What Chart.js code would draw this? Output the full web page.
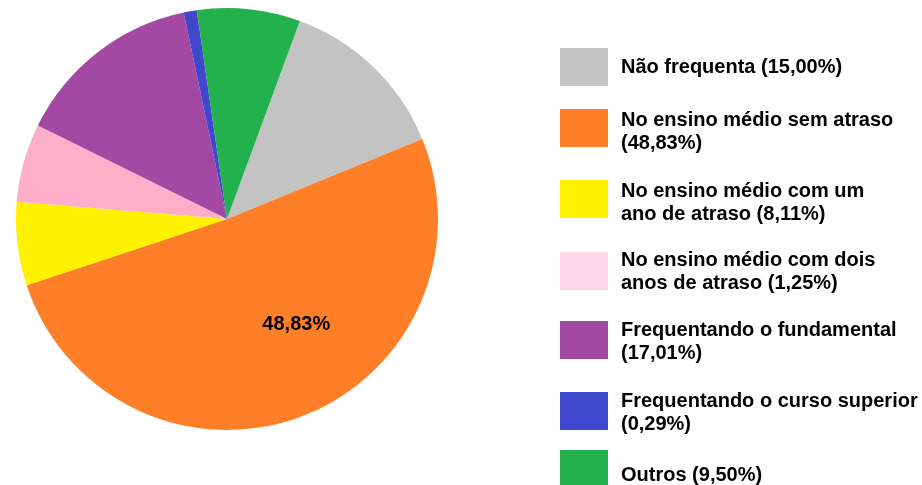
<!DOCTYPE html>
<html>
<head>
<meta charset="utf-8">
<script src="https://cdn.jsdelivr.net/npm/chart.js@4.4.1/dist/chart.umd.min.js"></script>
<style>
  html, body { margin: 0; padding: 0; background: #fff; }
  canvas { display: block; }
</style>
</head>
<body>
<canvas id="grafico" width="922" height="485"></canvas>
<script>
// categorie (testo della legenda, già spezzato in righe)
const categorie = [
    ['Não frequenta (15,00%)'],
    ['No ensino médio sem atraso', '(48,83%)'],
    ['No ensino médio com um', 'ano de atraso (8,11%)'],
    ['No ensino médio com dois', 'anos de atraso (1,25%)'],
    ['Frequentando o fundamental', '(17,01%)'],
    ['Frequentando o curso superior', '(0,29%)'],
    ['Outros (9,50%)']
];
// ampiezza delle fette come appaiono nel disegno (%)
const valori = [13.2, 51.1, 6.4, 6.0, 14.4, 1.0, 7.9];
const etichettaFetta = ['', '48,83%', '', '', '', '', ''];
const coloriFette = ['#c3c3c3', '#fe7f28', '#fff200', '#ffaec9', '#a349a4', '#3f48cc', '#22b14c'];
const coloriLegenda = ['#c3c3c3', '#fe7f28', '#fff200', '#ffd6e8', '#a349a4', '#3f48cc', '#22b14c'];

const FONT = 'bold 20px "Liberation Sans", Arial, sans-serif';

// legenda disegnata a mano a destra della torta
const legendaPlugin = {
    id: 'legendaCustom',
    afterDraw(chart) {
        const c = chart.ctx;
        const topBox = [48, 109, 180, 252, 321, 392, 450];
        const primaRiga = [25, 17, 17, 14, 15, 15, 31];
        c.save();
        c.font = FONT;
        c.textBaseline = 'alphabetic';
        c.textAlign = 'left';
        categorie.forEach((righe, i) => {
            c.fillStyle = coloriLegenda[i];
            c.fillRect(560, topBox[i], 48, 38);
            c.fillStyle = '#000';
            righe.forEach((r, j) => {
                c.fillText(r, 621, topBox[i] + primaRiga[i] + j * 23);
            });
        });
        c.restore();
    }
};

// etichetta percentuale dentro la fetta
const etichettePlugin = {
    id: 'etichetteFette',
    afterDatasetsDraw(chart) {
        const c = chart.ctx;
        const meta = chart.getDatasetMeta(0);
        c.save();
        c.font = FONT;
        c.fillStyle = '#000';
        c.textAlign = 'center';
        c.textBaseline = 'middle';
        meta.data.forEach((arc, i) => {
            if (!etichettaFetta[i]) return;
            const p = arc.getProps(['x', 'y', 'startAngle', 'endAngle', 'outerRadius'], true);
            const a = p.startAngle + 0.43 * (p.endAngle - p.startAngle);
            const r = p.outerRadius * 0.6;
            c.fillText(etichettaFetta[i], p.x + Math.cos(a) * r, p.y + Math.sin(a) * r);
        });
        c.restore();
    }
};

new Chart(document.getElementById('grafico').getContext('2d'), {
    type: 'pie',
    data: {
        labels: categorie.map(r => r.join(' ')),
        datasets: [{
            data: valori,
            backgroundColor: coloriFette,
            borderWidth: 0
        }]
    },
    options: {
        responsive: false,
        animation: false,
        rotation: 20.2,
        layout: { padding: { left: 16, right: 484, top: 8, bottom: 55 } },
        plugins: {
            legend: { display: false },
            tooltip: { enabled: false }
        }
    },
    plugins: [etichettePlugin, legendaPlugin]
});
</script>
</body>
</html>
